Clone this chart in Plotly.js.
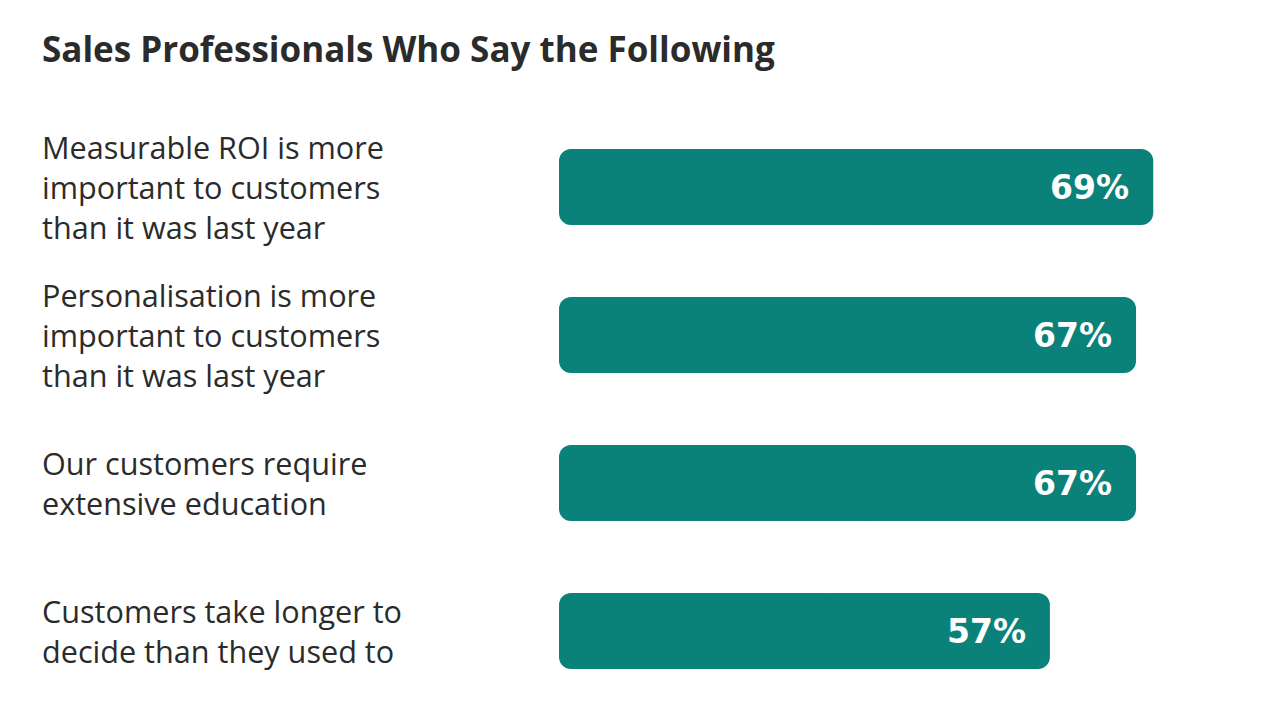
<!DOCTYPE html>
<html>
<head>
<meta charset="utf-8">
<script src="https://cdn.plot.ly/plotly-3.0.1.min.js"></script>
<style>
  html, body { margin: 0; padding: 0; background: #fff; }
  #chart { width: 1280px; height: 720px; }
</style>
</head>
<body>
<div id="chart"></div>
<script>
const chartTitle = "Sales Professionals Who Say the Following";
const statements = [
    "Measurable ROI is more<br>important to customers<br>than it was last year",
    "Personalisation is more<br>important to customers<br>than it was last year",
    "Our customers require<br>extensive education",
    "Customers take longer to<br>decide than they used to"
];
const shares = [69, 67, 67, 57];

const teal = "#0b8279";
const ink = "#2b2b2b";
const font = "'Open Sans', 'Noto Sans', sans-serif";

// plotly only rounds the far end of a bar, so each bar is drawn as two
// overlapping halves growing out from the middle: one rounds the right end,
// the other the left end
const rightHalf = {
    type: "bar", orientation: "h",
    y: statements,
    base: shares.map(v => v * 0.45),
    x: shares.map(v => v * 0.55),
    marker: { color: teal, cornerradius: 12, line: { width: 0 } },
    hoverinfo: "skip"
};
const leftHalf = {
    type: "bar", orientation: "h",
    y: statements,
    base: shares.map(v => v * 0.55),
    x: shares.map(v => -v * 0.55),
    marker: { color: teal, cornerradius: 12, line: { width: 0 } },
    hoverinfo: "skip"
};

// statement text on the left, value labels at the end of each bar
const labelNotes = statements.map(s => ({
    xref: "paper", yref: "y",
    x: 0, y: s,
    xanchor: "left", yanchor: "middle",
    xshift: -3,
    align: "left",
    text: s,
    showarrow: false,
    font: { family: font, size: 30.6, color: ink }
}));

const valueNotes = shares.map((v, i) => ({
    xref: "x", yref: "y",
    x: v, y: statements[i],
    xanchor: "right", yanchor: "middle",
    xshift: -22,
    text: "<b>" + v + "%</b>",
    showarrow: false,
    font: { family: "'DejaVu Sans', sans-serif", size: 33, color: "#ffffff" }
}));

const layout = {
    width: 1280,
    height: 720,
    paper_bgcolor: "#fff",
    plot_bgcolor: "#fff",
    margin: { l: 43, r: 32, t: 113, b: 15, pad: 0 },
    showlegend: false,
    barmode: "overlay",
    bargap: 72 / 148,
    title: {
        text: "<b>" + chartTitle + "</b>",
        xref: "container", yref: "container",
        x: 42 / 1280, xanchor: "left",
        y: 1 - 50 / 720, yanchor: "middle",
        font: { family: font, size: 35, color: ink }
    },
    xaxis: {
        domain: [516 / 1205, 1],
        range: [0, 80],
        visible: false,
        fixedrange: true
    },
    yaxis: {
        type: "category",
        range: [3.5, -0.5],
        showticklabels: false,
        showgrid: false,
        zeroline: false,
        fixedrange: true
    },
    annotations: labelNotes.concat(valueNotes)
};

Plotly.newPlot("chart", [rightHalf, leftHalf], layout, { displayModeBar: false, staticPlot: true });
</script>
</body>
</html>
